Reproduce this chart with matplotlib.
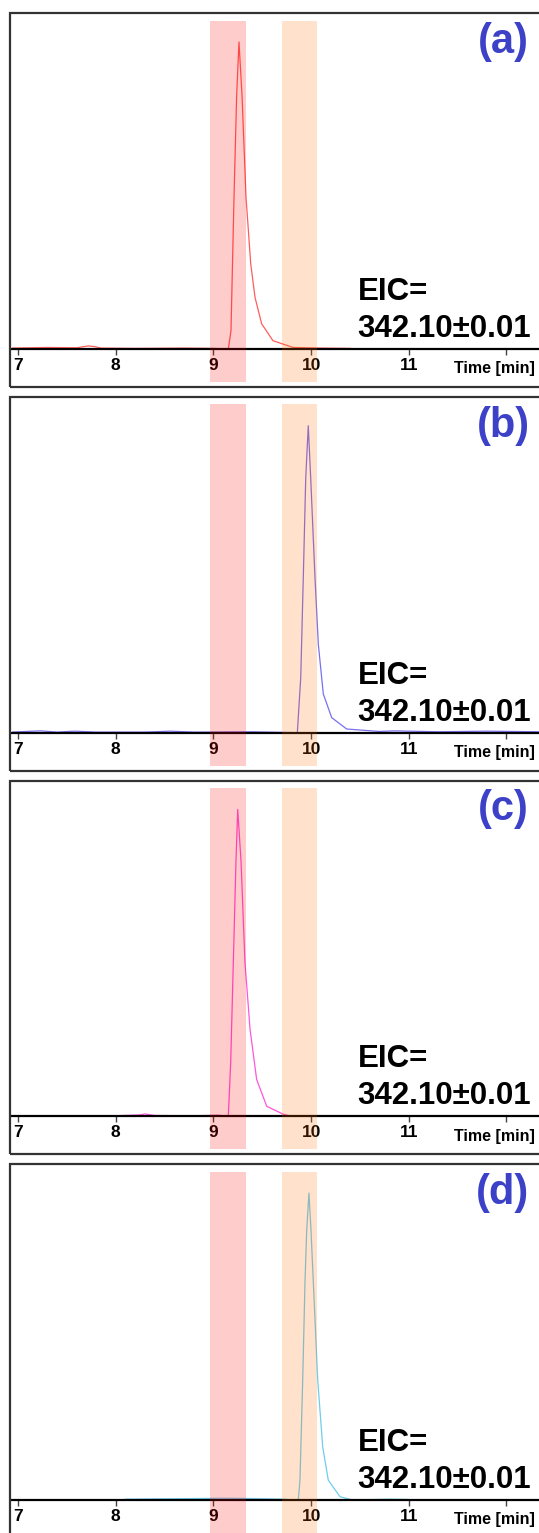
import matplotlib
matplotlib.use('Agg')
import matplotlib.pyplot as plt
from matplotlib.patches import Rectangle

# retention time (min) / relative intensity (%)
t_a = [6.93, 7.3, 7.6, 7.72, 7.78, 7.85, 8.2, 8.7, 9.0, 9.153, 9.18, 9.211, 9.238, 9.262,
       9.293, 9.334, 9.382, 9.426, 9.494, 9.61, 9.815, 10.1, 10.4]
i_a = [0.3, 0.5, 0.4, 1.0, 0.8, 0.3, 0.2, 0.3, 0.2, 0.0, 6.0, 49.4, 82.5, 100,
       82.5, 49.4, 27.8, 16.8, 8.2, 2.7, 0.5, 0.3, 0.2]

t_b = [6.93, 7.23, 7.4, 7.58, 7.8, 8.3, 8.56, 8.8, 9.4, 9.859, 9.894, 9.92, 9.945, 9.971,
       9.996, 10.04, 10.074, 10.125, 10.211, 10.364, 10.7, 10.85, 11.3, 11.8, 12.33]
i_b = [0.2, 0.6, 0.2, 0.5, 0.2, 0.2, 0.5, 0.2, 0.3, 0.0, 17.9, 50.4, 82.9, 100,
       82.9, 50.4, 28.8, 12.6, 4.9, 1.2, 0.4, 0.6, 0.3, 0.5, 0.3]

t_c = [8.0, 8.25, 8.3, 8.4, 8.8, 9.05, 9.1525, 9.177, 9.204, 9.231, 9.249,
       9.283, 9.323, 9.375, 9.443, 9.546, 9.715, 9.78]
i_c = [0.2, 0.5, 0.8, 0.3, 0.2, 0.4, 0.0, 17.5, 50.3, 83, 100,
       83, 50.3, 28.4, 12.0, 3.3, 0.7, 0.2]

t_d = [8.1, 8.4, 8.8, 9.1, 9.4, 9.7, 9.869, 9.886, 9.914, 9.938, 9.955, 9.978,
       9.999, 10.022, 10.068, 10.119, 10.176, 10.296, 10.429, 10.8, 11.0]
i_d = [0.3, 0.4, 0.5, 0.6, 0.5, 0.3, 0.0, 6.5, 39, 71.6, 87.9, 100,
       87.9, 71.6, 39, 17.3, 6.5, 1.1, 0.0, 0.3, 0.2]

traces = [(t_a, i_a), (t_b, i_b), (t_c, i_c), (t_d, i_d)]
colors = ['#ff5c5c', '#7a70ee', '#ff55dd', '#6fcdec']
letters = ['(a)', '(b)', '(c)', '(d)']

band1 = (8.965, 9.334)
band2 = (9.702, 10.057)
ticks = [7, 8, 9, 10, 11, 12]
tick_labels = ['7', '8', '9', '10', '11', '']

W, H = 539, 1533
fig = plt.figure(figsize=(W / 100, H / 100), dpi=100)
step = 383.7

lab_font = 'Liberation Sans'

for k, ((t, inten), col, lab) in enumerate(zip(traces, colors, letters)):
    off = step * k
    ax_top = 20.7 + off
    ax_bot = 382 + off
    ax = fig.add_axes([12 / W, 1 - ax_bot / H, (W - 12) / W, (ax_bot - ax_top) / H])
    ax.set_facecolor('none')
    ax.plot(t, inten, color=col, lw=0.9, zorder=2)
    ax.axvspan(*band1, color='#ff0000', alpha=0.2, lw=0, zorder=5)
    ax.axvspan(*band2, color='#ff6a00', alpha=0.2, lw=0, zorder=5)
    ax.set_xlim(6.9386, 12.3327)
    ax.set_ylim(-10.75, 106.94)
    for s in ['left', 'right', 'top']:
        ax.spines[s].set_visible(False)
    ax.spines['bottom'].set_position(('data', 0))
    ax.spines['bottom'].set_linewidth(1.6)
    ax.spines['bottom'].set_zorder(3)
    ax.set_yticks([])
    ax.set_xticks(ticks)
    ax.set_xticklabels(tick_labels, fontfamily=lab_font, fontweight='bold', fontsize=12.5)
    ax.tick_params(axis='x', direction='out', length=4, width=1, color='#444444', pad=2.5)
    ax.text(12.292, -4.0, 'Time [min]', ha='right', va='top', fontfamily=lab_font,
            fontweight='bold', fontsize=11.5, zorder=4)

    # panel frame
    fig.add_artist(Rectangle((10 / W, 1 - (387 + off) / H), 1.2, (387 - 13.3) / H,
                             transform=fig.transFigure, fill=False, ec='#333333', lw=1.6))
    fig.text(503 / W, 1 - (42 + off) / H, lab, ha='center', va='center', color='#3c41c8',
             fontfamily='Liberation Sans', fontweight='bold', fontsize=30)
    fig.text(358 / W, 1 - (300 + off) / H, 'EIC=', ha='left', va='baseline',
             fontfamily='Liberation Sans', fontweight='bold', fontsize=22.5)
    fig.text(357 / W, 1 - (337 + off) / H, '342.10±0.01', ha='left', va='baseline',
             fontfamily='Liberation Sans', fontweight='bold', fontsize=22.5)

fig.savefig('out.png', dpi=100)
